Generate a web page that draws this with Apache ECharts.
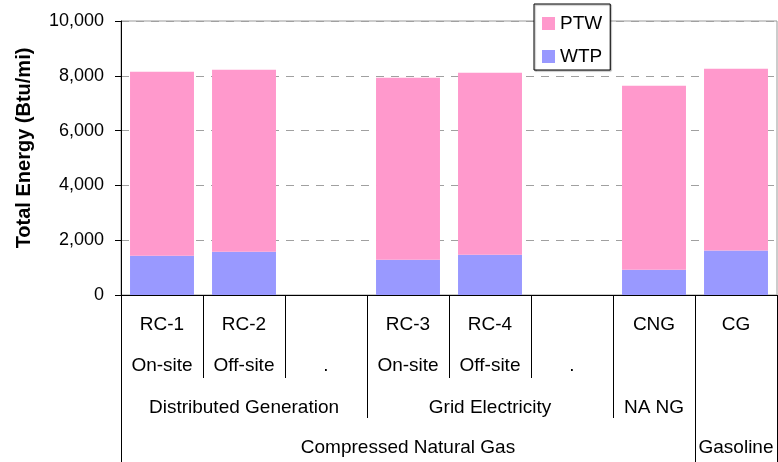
<!DOCTYPE html>
<html>
<head>
<meta charset="utf-8">
<script src="https://cdn.jsdelivr.net/npm/echarts@6/dist/echarts.min.js"></script>
<style>
html,body{margin:0;padding:0;background:#fff;}
#chart{width:778px;height:462px;}
</style>
</head>
<body>
<div id="chart"></div>
<script>
// ---- data ----
const categories = ['RC-1', 'RC-2', '', 'RC-3', 'RC-4', '', 'CNG', 'CG'];
const subLabels = ['On-site', 'Off-site', '.', 'On-site', 'Off-site', '.', '', ''];
const level2Names = ['Distributed Generation', 'Grid Electricity', 'NA NG', ''];
const level2Spans = [3, 3, 1, 1];
const level3Names = ['Compressed Natural Gas', 'Gasoline'];
const level3Spans = [7, 1];
const wtpValues = [1430, 1580, null, 1290, 1470, null, 920, 1620];
const ptwValues = [6720, 6640, null, 6640, 6640, null, 6720, 6640];
const yTicks = [0, 2000, 4000, 6000, 8000, 10000];

// ---- helpers for multi-level axis ----
function groupInfo(names, spans) {
  const starts = new Set();
  const centers = {};
  let idx = 0;
  names.forEach((n, k) => {
    starts.add(idx);
    centers[idx + Math.floor((spans[k] - 1) / 2)] = n;
    idx += spans[k];
  });
  return { starts, centers };
}
const g2 = groupInfo(level2Names, level2Spans);
const g3 = groupInfo(level3Names, level3Spans);

const FONT = "'Liberation Sans', Arial, sans-serif";
const chart = echarts.init(document.getElementById('chart'));

const baseHiddenAxis = {
  type: 'category',
  data: categories,
  position: 'bottom',
  gridIndex: 0,
  axisLine: { show: false },
  splitLine: { show: false }
};

chart.setOption({
  animation: false,
  backgroundColor: '#fff',
  grid: {
    left: 121, right: 1, top: 21, bottom: 167,
    show: true, borderColor: '#999', borderWidth: 1
  },
  legend: {
    data: ['PTW', 'WTP'],
    orient: 'vertical',
    left: 534, top: 4,
    padding: [10, 8, 4, 8],
    itemWidth: 13, itemHeight: 13, itemGap: 14,
    icon: 'rect',
    backgroundColor: '#fff',
    borderColor: '#000', borderWidth: 1,
    shadowColor: 'rgba(0,0,0,0.35)', shadowOffsetX: 1, shadowOffsetY: 1, shadowBlur: 1,
    textStyle: { fontFamily: FONT, fontSize: 19, color: '#000', lineHeight: 19 }
  },
  xAxis: [
    {
      type: 'category',
      data: categories,
      position: 'bottom',
      axisLine: { show: true, lineStyle: { color: '#000', width: 1 } },
      axisTick: { show: true, interval: 0, length: 83, lineStyle: { color: '#000' } },
      axisLabel: {
        interval: 0, margin: 9,
        fontFamily: FONT, fontSize: 19, color: '#000', lineHeight: 41,
        formatter: (v, i) => categories[i] + '\n' + subLabels[i]
      },
      splitLine: { show: false }
    },
    Object.assign({}, baseHiddenAxis, {
      axisTick: { show: true, interval: (i) => g2.starts.has(i), length: 123, lineStyle: { color: '#000' } },
      axisLabel: {
        interval: (i) => g2.centers[i] !== undefined, margin: 103,
        fontFamily: FONT, fontSize: 19, color: '#000', lineHeight: 20,
        formatter: (v, i) => g2.centers[i] || ''
      }
    }),
    Object.assign({}, baseHiddenAxis, {
      axisTick: { show: true, interval: (i) => g3.starts.has(i), length: 167, lineStyle: { color: '#000' } },
      axisLabel: {
        interval: (i) => g3.centers[i] !== undefined, margin: 143,
        fontFamily: FONT, fontSize: 19, color: '#000', lineHeight: 20,
        formatter: (v, i) => g3.centers[i] || ''
      }
    })
  ],
  yAxis: {
    type: 'value',
    min: yTicks[0], max: yTicks[yTicks.length - 1], interval: yTicks[1] - yTicks[0],
    name: 'Total Energy (Btu/mi)',
    nameLocation: 'middle', nameRotate: 90, nameGap: 87,
    nameTextStyle: { fontFamily: FONT, fontSize: 20, fontWeight: 'bold', color: '#000', padding: [0, 0, 0, 20] },
    axisLine: { show: true, lineStyle: { color: '#000', width: 1 } },
    axisTick: { show: true, length: 6, lineStyle: { color: '#000' } },
    axisLabel: {
      margin: 17, fontFamily: FONT, fontSize: 18, color: '#000',
      formatter: (v) => v.toLocaleString('en-US')
    },
    splitLine: { show: true, lineStyle: { color: '#a0a0a0', type: [8, 7], width: 1 } }
  },
  series: [
    {
      name: 'WTP', type: 'bar', stack: 'total', xAxisIndex: 0,
      data: wtpValues, barCategoryGap: '22%',
      itemStyle: { color: '#9999FF' }
    },
    {
      name: 'PTW', type: 'bar', stack: 'total', xAxisIndex: 0,
      data: ptwValues, barCategoryGap: '22%',
      itemStyle: { color: '#FF99CC' }
    }
  ]
});
</script>
</body>
</html>
